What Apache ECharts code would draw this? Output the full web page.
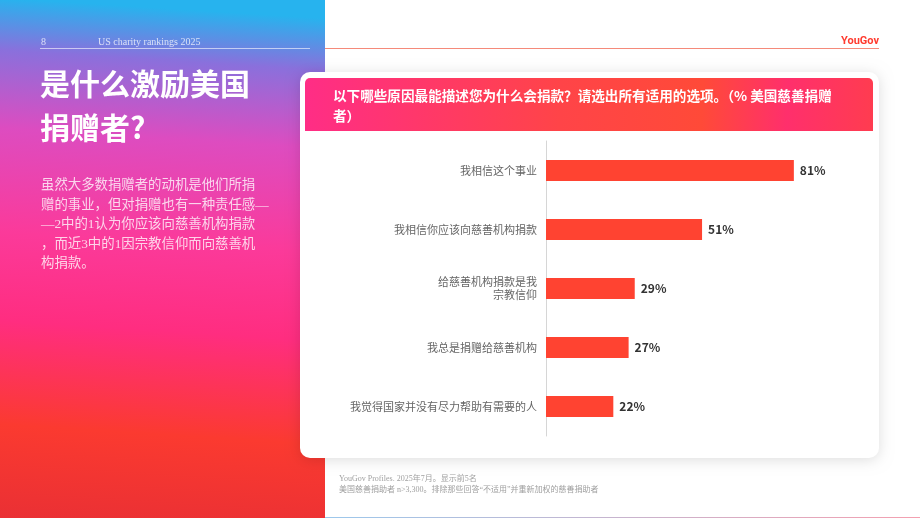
<!DOCTYPE html>
<html><head><meta charset="utf-8">
<script src="https://cdn.jsdelivr.net/npm/echarts@6/dist/echarts.min.js"></script>
<style>html,body{margin:0;padding:0;background:#fff}#c{width:920px;height:518px}</style>
</head><body><div id="c"></div>
<script>
const categories = ['我相信这个事业','我相信你应该向慈善机构捐款','给慈善机构捐款是我\n宗教信仰','我总是捐赠给慈善机构','我觉得国家并没有尽力帮助有需要的人'];
const values = [81, 51, 29, 27, 22];
const chartTitle = '以下哪些原因最能描述您为什么会捐款？请选出所有适用的选项。（% 美国慈善捐赠\n者）';
const pageTitle = '是什么激励美国\n捐赠者?';
const bodyText = '虽然大多数捐赠者的动机是他们所捐\n赠的事业，但对捐赠也有一种责任感—\n—2中的1认为你应该向慈善机构捐款\n，而近3中的1因宗教信仰而向慈善机\n构捐款。';
const footnote = 'YouGov Profiles. 2025年7月。显示前5名\n美国慈善捐助者 n>3,300。排除那些回答“不适用”并重新加权的慈善捐助者';

const CJK = '"Noto Sans CJK SC", "Noto Sans", sans-serif';
const SERIF = '"Liberation Serif", "DejaVu Serif", "Noto Sans CJK SC", serif';

const chart = echarts.init(document.getElementById('c'), null, {renderer: 'canvas'});
chart.setOption({
  animation: false,
  backgroundColor: '#ffffff',
  graphic: [
    {type: 'rect', z: -10, shape: {x: 0, y: 0, width: 325, height: 518},
     style: {fill: new echarts.graphic.LinearGradient(0.1, 0, 0, 1, [
       {offset: 0, color: '#27b3ee'},
       {offset: 0.1, color: '#8a70dc'},
       {offset: 0.25, color: '#dd4cc0'},
       {offset: 0.45, color: '#fb3a9a'},
       {offset: 0.62, color: '#ff2d80'},
       {offset: 0.82, color: '#fb3a30'},
       {offset: 1, color: '#ea3034'}])}},
    {type: 'line', z: -5, shape: {x1: 40, y1: 48.5, x2: 310, y2: 48.5}, style: {stroke: 'rgba(255,255,255,0.6)', lineWidth: 1}},
    {type: 'line', z: -5, shape: {x1: 325, y1: 48.5, x2: 879, y2: 48.5}, style: {stroke: '#f58a7a', lineWidth: 1}},
    {type: 'text', z: 5, style: {x: 41, y: 42, text: '8', font: '10px ' + SERIF, fill: 'rgba(255,255,255,0.75)', textVerticalAlign: 'middle'}},
    {type: 'text', z: 5, style: {x: 98, y: 42, text: 'US charity rankings 2025', font: '10px ' + SERIF, fill: 'rgba(255,255,255,0.75)', textVerticalAlign: 'middle'}},
    {type: 'text', z: 5, style: {x: 879, y: 41, text: 'YouGov', font: 'bold 11px "Roboto", "Liberation Sans", sans-serif', fill: '#ff3b2f', textAlign: 'right', textVerticalAlign: 'middle'}},
    {type: 'text', z: 5, style: {x: 40, y: 62, text: pageTitle, font: 'bold 30px ' + CJK, fill: '#ffffff', lineHeight: 44}},
    {type: 'text', z: 5, style: {x: 41, y: 176, text: bodyText, font: '13.4px ' + SERIF, fill: 'rgba(255,255,255,0.78)', lineHeight: 19.5}},
    {type: 'rect', z: -4, shape: {x: 300, y: 72, width: 579, height: 386, r: 10},
     style: {fill: '#ffffff', shadowBlur: 14, shadowColor: 'rgba(0,0,0,0.13)', shadowOffsetY: 2}},
    {type: 'rect', z: -3, shape: {x: 305, y: 78, width: 568, height: 53, r: [5, 5, 0, 0]},
     style: {fill: new echarts.graphic.LinearGradient(0, 0, 1, 0.3, [
       {offset: 0, color: '#ff2d86'},
       {offset: 0.45, color: '#ff4448'},
       {offset: 0.7, color: '#ff4a38'},
       {offset: 0.85, color: '#ff2f6c'},
       {offset: 1, color: '#ff3c50'}])}},
    {type: 'text', z: 5, style: {x: 333, y: 86, text: chartTitle, font: 'bold 13.6px ' + CJK, fill: '#ffffff', lineHeight: 20, textVerticalAlign: 'top'}},
    {type: 'text', z: 5, style: {x: 339, y: 474, text: footnote, font: '8px ' + SERIF, fill: '#a0a0a0', lineHeight: 10.5}},
    {type: 'rect', z: -5, shape: {x: 325, y: 517, width: 595, height: 1},
     style: {fill: new echarts.graphic.LinearGradient(0, 0, 1, 0, [
       {offset: 0, color: '#9cc8ec'}, {offset: 1, color: '#f4a0b0'}])}}
  ],
  grid: {left: 546, top: 141, width: 306, height: 295, containLabel: false},
  xAxis: {type: 'value', min: 0, max: 100, show: false},
  yAxis: {
    type: 'category', data: categories, inverse: true,
    axisLine: {show: true, lineStyle: {color: '#d6d6d6', width: 1}},
    axisTick: {show: false},
    axisLabel: {color: '#666666', fontSize: 11, fontFamily: 'Noto Sans CJK SC', margin: 9, lineHeight: 13}
  },
  series: [{
    type: 'bar', data: values, barWidth: 21,
    itemStyle: {color: '#ff4331'},
    label: {show: true, position: 'right', distance: 6, formatter: '{c}%', color: '#333333', fontSize: 12, fontWeight: 'bold', fontFamily: 'Noto Sans CJK SC'}
  }]
});
</script></body></html>
